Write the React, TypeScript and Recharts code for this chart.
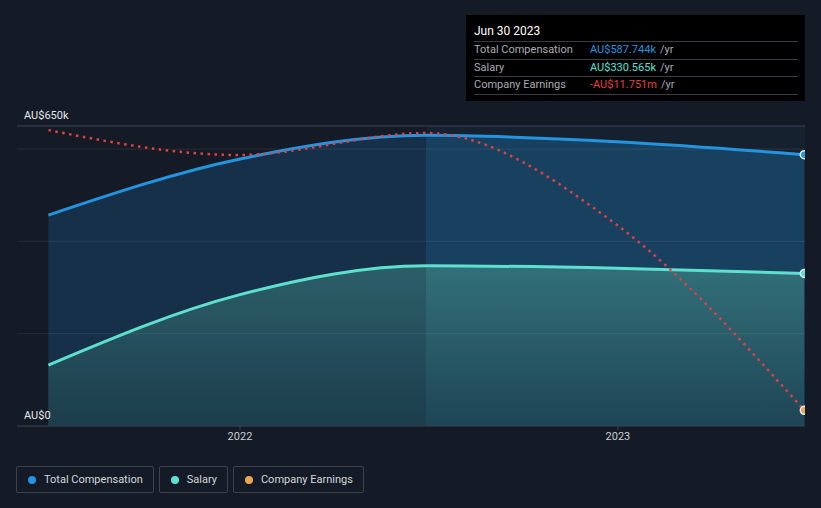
import {
  ComposedChart,
  Area,
  Line,
  XAxis,
  YAxis,
  ReferenceLine,
  ReferenceArea,
} from "recharts";

// period ends (fiscal half-years)
const periods = ["2021-06-30", "2021-12-31", "2022-06-30", "2022-12-31", "2023-06-30"];
// AU$ thousands
const totalComp = [457, 578, 630, 616, 587.744];
const salary = [132, 284, 347, 342, 330.565];
// AU$ millions, drawn on its own hidden axis
const earnings = [-0.17, -1.2, -0.29, -4.09, -11.751];

const xTicks = [2022, 2023];
const yLabels = [
  { value: 0, text: "AU$0" },
  { value: 650, text: "AU$650k" },
];
const gridValues = [200, 400, 600];

const legendItems = [
  { name: "Total Compensation", color: "#2394df" },
  { name: "Salary", color: "#5de0cf" },
  { name: "Company Earnings", color: "#e8a94c" },
];

const rows = [
  { label: "Total Compensation", value: "AU$587.744k", color: "#2394df" },
  { label: "Salary", value: "AU$330.565k", color: "#5de0cf" },
  { label: "Company Earnings", value: "-AU$11.751m", color: "#e5403f" },
];

const toYear = (d: string) => {
  const [y, m, day] = d.split("-").map(Number);
  const start = Date.UTC(y, 0, 1);
  const end = Date.UTC(y + 1, 0, 1);
  return y + (Date.UTC(y, m - 1, day) - start) / (end - start);
};

const data = periods.map((p, i) => ({
  t: toYear(p),
  comp: totalComp[i],
  salary: salary[i],
  earn: earnings[i],
}));

const lastIdx = data.length - 1;
const highlightStart = toYear("2022-06-30");
const split = 426 / 821;
const FONT = "Roboto, 'Noto Sans', sans-serif";

const endDot = (fill: string) => (p: any) =>
  p.index === lastIdx ? (
    <circle key={`d${p.index}`} cx={p.cx} cy={p.cy} r={4} fill={fill} stroke="#e8eef4" strokeWidth={1.5} />
  ) : (
    <g key={`d${p.index}`} />
  );

const yLabel = (text: string) => (props: any) => (
  <text x={24} y={props.viewBox.y - 7} fill="#e6e8eb" fontSize={11} fontFamily={FONT}>
    {text}
  </text>
);

export default function App() {
  return (
    <div
      style={{
        position: "absolute",
        left: 0,
        top: 0,
        width: 821,
        height: 508,
        background: "#151b26",
        fontFamily: FONT,
        overflow: "hidden",
      }}
    >
      <ComposedChart
        width={821}
        height={450}
        data={data}
        margin={{ top: 126, right: 16, left: 17, bottom: 4 }}
      >
        <defs>
          <linearGradient id="compFill" gradientUnits="userSpaceOnUse" x1="0" y1="0" x2="821" y2="0">
            <stop offset="0" stopColor="#173049" />
            <stop offset={split} stopColor="#173049" />
            <stop offset={split} stopColor="#18405f" />
            <stop offset="1" stopColor="#18405f" />
          </linearGradient>
          <linearGradient id="salFill" x1="0" y1="0" x2="0" y2="1">
            <stop offset="0%" stopColor="#327079" />
            <stop offset="100%" stopColor="#1e4555" />
          </linearGradient>
          <linearGradient id="salShade" gradientUnits="userSpaceOnUse" x1="0" y1="0" x2="821" y2="0">
            <stop offset="0" stopColor="#151b26" stopOpacity={0.2} />
            <stop offset={split} stopColor="#151b26" stopOpacity={0.2} />
            <stop offset={split} stopColor="#151b26" stopOpacity={0} />
            <stop offset="1" stopColor="#151b26" stopOpacity={0} />
          </linearGradient>
        </defs>
        <XAxis
          dataKey="t"
          type="number"
          domain={[2021.41, 2023.495]}
          allowDataOverflow
          ticks={xTicks}
          tickFormatter={(v: number) => String(v)}
          tick={{ fill: "#c9cdd3", fontSize: 11, fontFamily: FONT }}
          tickSize={4}
          tickLine={{ stroke: "#3c434e" }}
          axisLine={{ stroke: "#3c434e" }}
          height={20}
        />
        <YAxis yAxisId="comp" domain={[0, 650]} hide />
        <YAxis yAxisId="earn" domain={[-12.4, 0]} hide />
        <ReferenceArea
          yAxisId="comp"
          x1={highlightStart}
          x2={2023.495}
          y1={0}
          y2={650}
          fill="#1a3550"
          fillOpacity={0.25}
          stroke="none"
        />
        <Area
          yAxisId="comp"
          type="monotone"
          dataKey="comp"
          stroke="none"
          fill="url(#compFill)"
          fillOpacity={1}
          isAnimationActive={false}
        />
        <Area
          yAxisId="comp"
          type="monotone"
          dataKey="salary"
          stroke="none"
          fill="url(#salFill)"
          fillOpacity={1}
          isAnimationActive={false}
        />
        <Area
          yAxisId="comp"
          type="monotone"
          dataKey="salary"
          stroke="none"
          fill="url(#salShade)"
          fillOpacity={1}
          isAnimationActive={false}
        />
        {gridValues.map((v) => (
          <ReferenceLine key={v} yAxisId="comp" y={v} stroke="#ffffff" strokeOpacity={0.08} />
        ))}
        {yLabels.map((l) => (
          <ReferenceLine
            key={l.text}
            yAxisId="comp"
            y={l.value}
            stroke={l.value === 0 ? "none" : "#3c434e"}
            label={yLabel(l.text)}
          />
        ))}
        <Line
          yAxisId="comp"
          type="monotone"
          dataKey="comp"
          stroke="#2394df"
          strokeWidth={3}
          dot={endDot("#2394df")}
          activeDot={false}
          isAnimationActive={false}
        />
        <Line
          yAxisId="comp"
          type="monotone"
          dataKey="salary"
          stroke="#5de0cf"
          strokeWidth={3}
          dot={endDot("#5de0cf")}
          activeDot={false}
          isAnimationActive={false}
        />
        <Line
          yAxisId="earn"
          type="monotone"
          dataKey="earn"
          stroke="#e5403f"
          strokeWidth={2.5}
          strokeDasharray="2.5 4.5"
          dot={endDot("#e8a94c")}
          activeDot={false}
          isAnimationActive={false}
        />
      </ComposedChart>

      <div
        style={{
          position: "absolute",
          left: 466,
          top: 15,
          width: 339,
          height: 86,
          background: "#000",
          boxSizing: "border-box",
          padding: "0 7px 0 8px",
        }}
      >
        <div style={{ color: "#fff", fontSize: 12, height: 26, lineHeight: "32px" }}>Jun 30 2023</div>
        {rows.map((r) => (
          <div
            key={r.label}
            style={{
              borderTop: "1px solid #3a3d42",
              height: 16.5,
              lineHeight: "16.5px",
              fontSize: 11,
              display: "flex",
            }}
          >
            <span style={{ color: "#a9acb1", width: 116 }}>{r.label}</span>
            <span style={{ color: r.color }}>{r.value}</span>
            <span style={{ color: "#a9acb1", marginLeft: 4 }}>/yr</span>
          </div>
        ))}
        <div style={{ borderTop: "1px solid #3a3d42" }} />
      </div>

      <div style={{ position: "absolute", left: 16, top: 466, display: "flex", gap: 5 }}>
        {legendItems.map((it) => (
          <div
            key={it.name}
            style={{
              height: 27,
              boxSizing: "border-box",
              border: "1px solid #3d434d",
              borderRadius: 2,
              display: "flex",
              alignItems: "center",
              padding: "0 10px 0 11px",
              color: "#d3d6db",
              fontSize: 11,
            }}
          >
            <span
              style={{
                width: 8,
                height: 8,
                borderRadius: 4,
                background: it.color,
                marginRight: 8,
              }}
            />
            {it.name}
          </div>
        ))}
      </div>
    </div>
  );
}
